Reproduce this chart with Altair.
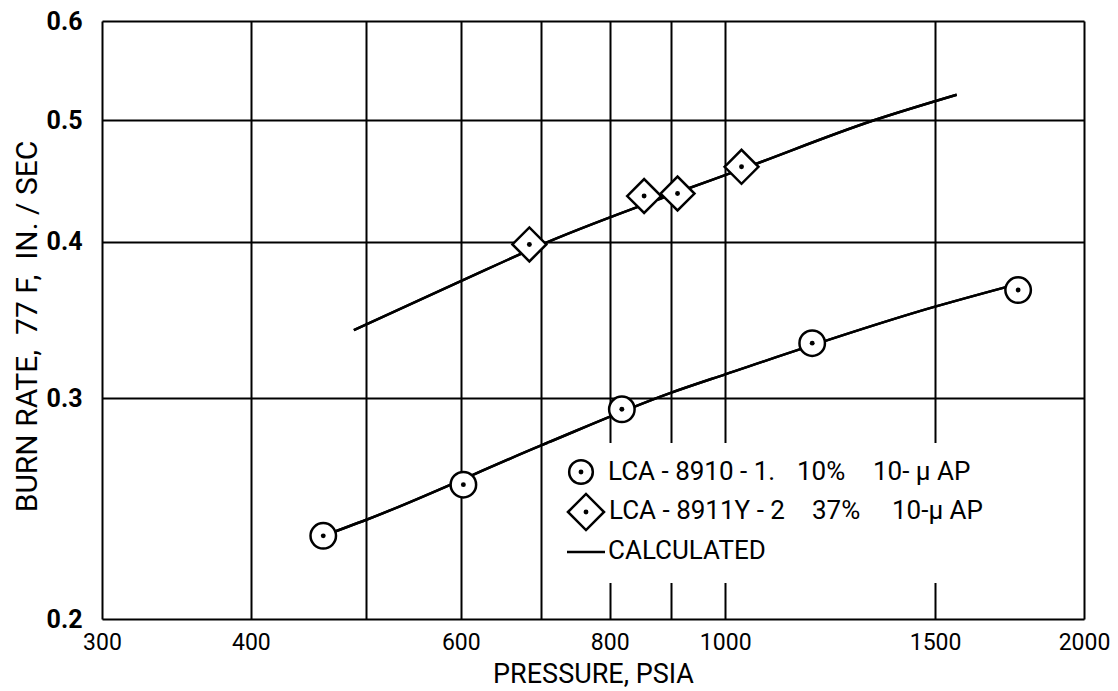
import altair as alt
import pandas as pd

# ---- data (pressure psia, burn rate in./sec) ----
lca8910_p = [460, 603, 819, 1183, 1761]
lca8910_r = [0.233, 0.256, 0.294, 0.332, 0.366]

lca8911_p = [685, 855, 912, 1032]
lca8911_r = [0.398, 0.435, 0.437, 0.459]

calc_hi_p = [488, 600, 711, 900, 1032, 1333, 1564]
calc_hi_r = [0.340, 0.372, 0.400, 0.436, 0.457, 0.500, 0.524]

calc_lo_p = [460, 500, 700, 900, 1000, 1500, 1720]
calc_lo_r = [0.233, 0.240, 0.275, 0.303, 0.3135, 0.355, 0.368]

x_grid = [300, 400, 500, 600, 700, 800, 900, 1000, 1500, 2000]
x_unlabeled = [500, 700, 900]
y_grid = [0.2, 0.3, 0.4, 0.5, 0.6]

FONT = "Roboto, Liberation Sans, sans-serif"

# ---- tables ----
lines_df = pd.DataFrame({
    "p": calc_hi_p + calc_lo_p,
    "r": calc_hi_r + calc_lo_r,
    "series": ["hi"] * len(calc_hi_p) + ["lo"] * len(calc_lo_p),
})
circ_df = pd.DataFrame({"p": lca8910_p, "r": lca8910_r})
diam_df = pd.DataFrame({"p": lca8911_p, "r": lca8911_r})
dots_df = pd.concat([circ_df, diam_df], ignore_index=True)

xscale = alt.Scale(type="log", domain=[300, 2000], nice=False)
yscale = alt.Scale(type="log", domain=[0.2, 0.6], nice=False)

x_axis = alt.Axis(
    values=x_grid, format="d",
    labelExpr="indexof([" + ",".join(str(v) for v in x_unlabeled) + "], datum.value) >= 0 ? '' : datum.label",
    grid=True, gridColor="black", gridWidth=2, gridOpacity=1,
    ticks=False, domain=False, labelFlush=False, labelOverlap=False,
    labelFont=FONT, labelFontSize=23, labelColor="black", labelPadding=12,
    title="PRESSURE, PSIA", titleFont=FONT, titleFontSize=27, titleFontWeight="normal",
    titleColor="black", titleY=63, titleBaseline="alphabetic",
)
y_axis = alt.Axis(
    values=y_grid, format=".1f",
    grid=True, gridColor="black", gridWidth=2, gridOpacity=1,
    ticks=False, domain=False, labelFlush=False, labelOverlap=False,
    labelFont=FONT, labelFontSize=25, labelColor="black", labelPadding=20,
    labelFontWeight="bold", labelBaseline="middle",
    title="BURN RATE,\u00a0 77 F,\u00a0 IN. / SEC", titleFont=FONT, titleFontSize=30,
    titleFontWeight="normal", titleColor="black",
    titleX=-75, titleY=305, titleAlign="center", titleBaseline="middle", titleAngle=270,
)

lines = alt.Chart(lines_df).mark_line(
    color="black", strokeWidth=2.5, interpolate="monotone"
).encode(
    x=alt.X("p:Q", scale=xscale, axis=x_axis),
    y=alt.Y("r:Q", scale=yscale, axis=y_axis),
    detail="series:N",
)

# white patch behind the legend that interrupts the grid
legend_bg = alt.Chart(pd.DataFrame({"k": [0]})).mark_rect(color="white").encode(
    x=alt.value(446), x2=alt.value(976), y=alt.value(422), y2=alt.value(562)
)

circles = alt.Chart(circ_df).mark_point(
    shape="circle", size=650, filled=True, fill="white", stroke="black", strokeWidth=2.5, opacity=1
).encode(x=alt.X("p:Q", scale=xscale), y=alt.Y("r:Q", scale=yscale))

diamonds = alt.Chart(diam_df).mark_point(
    shape="diamond", size=1150, filled=True, fill="white", stroke="black", strokeWidth=2.5, opacity=1
).encode(x=alt.X("p:Q", scale=xscale), y=alt.Y("r:Q", scale=yscale))

dots = alt.Chart(dots_df).mark_point(
    shape="circle", size=24, filled=True, color="black", opacity=1
).encode(x=alt.X("p:Q", scale=xscale), y=alt.Y("r:Q", scale=yscale))

one = pd.DataFrame({"k": [0]})


def sym(shape, size, px, py):
    ring = alt.Chart(one).mark_point(
        shape=shape, size=size, filled=True, fill="white", stroke="black", strokeWidth=2.5, opacity=1
    ).encode(x=alt.value(px), y=alt.value(py))
    dot = alt.Chart(one).mark_point(
        shape="circle", size=24, filled=True, color="black", opacity=1
    ).encode(x=alt.value(px), y=alt.value(py))
    return [ring, dot]


def txt(s, px, py, size=26):
    return alt.Chart(one).mark_text(
        text=s, align="left", baseline="middle", font=FONT, fontSize=size, color="black"
    ).encode(x=alt.value(px), y=alt.value(py))


legend_line = alt.Chart(one).mark_rule(color="black", strokeWidth=2.5).encode(
    x=alt.value(465), x2=alt.value(503), y=alt.value(531)
)

legend_layers = (
    sym("circle", 560, 479, 451)
    + sym("diamond", 1300, 484, 491)
    + [
        legend_line,
        txt("LCA - 8910 - 1.", 506, 451),
        txt("10%", 695, 451),
        txt("10- \u03bc AP", 771, 451),
        txt("LCA - 8911Y - 2", 507, 490),
        txt("37%", 710, 490),
        txt("10-\u03bc AP", 790, 490),
        txt("CALCULATED", 506, 530),
    ]
)

chart = alt.layer(
    lines, legend_bg, lines, circles, diamonds, dots, *legend_layers
).properties(
    width=982, height=598,
    padding={"left": 94, "top": 13, "right": 26, "bottom": 70},
    autosize=alt.AutoSizeParams(type="none"),
).configure_view(
    stroke="black", strokeWidth=3, fill="white"
).configure(background="white")

chart.save("out.html", embed_options={"renderer": "svg", "actions": False})
